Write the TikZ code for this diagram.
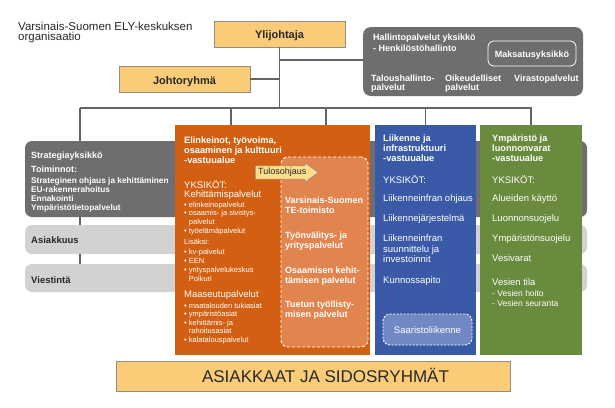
\documentclass[tikz,border=0pt]{standalone}
\usepackage{fontspec}
\setmainfont{Liberation Sans}
\usetikzlibrary{shapes.arrows}
\definecolor{lorange}{RGB}{250,204,120}
\definecolor{boxborder}{RGB}{150,140,128}
\definecolor{dgray}{RGB}{110,110,112}
\definecolor{lgray}{RGB}{210,210,210}
\definecolor{orng}{RGB}{211,96,18}
\definecolor{orngl}{RGB}{226,132,78}
\definecolor{blu}{RGB}{58,90,168}
\definecolor{blul}{RGB}{112,137,196}
\definecolor{grn}{RGB}{106,138,62}
\definecolor{linegray}{RGB}{100,100,100}
\definecolor{tulosfill}{RGB}{252,222,140}
\definecolor{darktext}{RGB}{40,40,40}
\begin{document}
\begin{tikzpicture}[x=1pt,y=-1pt,
  conn/.style={draw=linegray,line width=1.3pt},
  yellowbox/.style={draw=boxborder,line width=0.8pt,fill=lorange,minimum width=131pt,minimum height=26pt,inner sep=0pt},
  band/.style={rounded corners=7pt,inner sep=0pt,minimum width=562pt},
  colbox/.style={inner sep=0pt,minimum height=230pt},
  dashbox/.style={draw=white,line width=0.9pt,dash pattern=on 3pt off 2pt,rounded corners=7pt,inner sep=0pt},
  wt/.style={anchor=base west,inner sep=0pt,text=white},
  hb/.style={wt,font=\fontsize{9.2}{10}\selectfont\bfseries},
  bt/.style={wt,font=\fontsize{9}{10}\selectfont\bfseries},
  sbt/.style={wt,font=\fontsize{8.3}{9}\selectfont\bfseries},
  rt/.style={wt,font=\fontsize{9.5}{10}\selectfont},
  st/.style={wt,font=\fontsize{7.5}{8}\selectfont},
  dt/.style={anchor=base west,inner sep=0pt,text=darktext,font=\fontsize{9.5}{10}\selectfont\bfseries}
]
\useasboundingbox (0,0) rectangle (615,407);
\fill[white] (0,0) rectangle (615,407);

% title
\node[anchor=base west,inner sep=0pt,font=\fontsize{11.5}{11}\selectfont,text=darktext] (title1) at (18,30) {Varsinais-Suomen ELY-keskuksen};
\node[anchor=base west,inner sep=0pt,font=\fontsize{11.5}{11}\selectfont,text=darktext] (title2) at (18,40.5) {organisaatio};

% top boxes
\node[yellowbox] (ylij) at (279.5,34) {};
\node[anchor=base,inner sep=0pt,font=\fontsize{11}{11}\selectfont\bfseries,text=darktext] (ylijt) at (279.5,38) {Ylijohtaja};
\node[yellowbox] (johto) at (184.5,79) {};
\node[anchor=base,inner sep=0pt,font=\fontsize{11}{11}\selectfont\bfseries,text=darktext] (johtot) at (184.5,84) {Johtoryhmä};

% hallinto
\node[fill=dgray,rounded corners=8pt,minimum width=220pt,minimum height=69pt,inner sep=0pt] (hall) at (473,61.5) {};
\node[draw=white,line width=0.8pt,rounded corners=6pt,minimum width=88pt,minimum height=25pt,inner sep=0pt] (maks) at (532,53.5) {};
\node[anchor=base,inner sep=0pt,text=white,font=\fontsize{9}{10}\selectfont\bfseries] (makst) at (532,57) {Maksatusyksikkö};
\node[bt] (h1) at (373,40) {Hallintopalvelut yksikkö};
\node[bt] (h2) at (373,51.5) {- Henkilöstöhallinto};
\node[bt] (h3) at (371,81) {Taloushallinto-};
\node[bt] (h4) at (371,90) {palvelut};
\node[bt] (h5) at (445,81) {Oikeudelliset};
\node[bt] (h6) at (445,90) {palvelut};
\node[bt] (h7) at (514,81) {Virastopalvelut};

% bands
\node[band,fill=dgray,minimum height=76pt] (strat) at (306,179) {};
\node[band,fill=lgray,minimum height=29pt] (asiak) at (306,239.5) {};
\node[band,fill=lgray,minimum height=28pt] (viest) at (306,278) {};
\node[bt] (s1) at (31,158) {Strategiayksikkö};
\node[bt] (s2) at (31,172) {Toiminnot:};
\foreach \yy/\tx [count=\i] in {183/{Strateginen ohjaus ja kehittäminen},192/{EU-rakennerahoitus},201/{Ennakointi},210/{Ympäristötietopalvelut}}
  \node[sbt] (sl\i) at (31,\yy) {\tx};
\node[dt] (asiakt) at (31,243.5) {Asiakkuus};
\node[dt] (viestt) at (31,283) {Viestintä};

% columns
\node[colbox,fill=orng,minimum width=195pt] (orange) at (272.5,240) {};
\node[colbox,fill=blu,minimum width=101pt] (blue) at (425.5,240) {};
\node[colbox,fill=grn,minimum width=102pt] (green) at (531,240) {};
\node[dashbox,fill=orngl,minimum width=87pt,minimum height=190pt] (te) at (324.5,252) {};
\node[dashbox,fill=blul,dash pattern=on 2pt off 1.5pt,minimum width=89pt,minimum height=31pt] (saar) at (427.5,329.5) {};

% orange texts
\foreach \yy/\tx [count=\i] in {143/{Elinkeinot, työvoima,},153/{osaaminen ja kulttuuri},163/{-vastuualue}}
  \node[hb] (oh\i) at (184,\yy) {\tx};
\node[rt] (oy) at (184,188.3) {YKSIKÖT:};
\node[rt] (ok) at (184,197.5) {Kehittämispalvelut};
\foreach \yy/\tx [count=\i] in {207/{• elinkeinopalvelut},215.8/{• osaamis- ja sivistys-},224.6/{\phantom{• }palvelut},233.4/{• työelämäpalvelut},244.5/{Lisäksi:},254/{• kv-palvelut},263.3/{• EEN},272.6/{• yrityspalvelukeskus},281.9/{\phantom{• }Polkuri}}
  \node[st] (ob\i) at (184,\yy) {\tx};
\node[rt] (om) at (184,297.5) {Maaseutupalvelut};
\foreach \yy/\tx [count=\i] in {308/{• maatalouden tukiasiat},316.6/{• ympäristöasiat},325.2/{• kehittämis- ja},333.8/{\phantom{• }rahoitusasiat},342.4/{• kalatalouspalvelut}}
  \node[st] (oc\i) at (184,\yy) {\tx};
\foreach \yy/\tx [count=\i] in {203/{Varsinais-Suomen},213/{TE-toimisto},238.5/{Työnvälitys- ja},248.5/{yrityspalvelut},273/{Osaamisen kehit-},283/{tämisen palvelut},307.5/{Tuetun työllisty-},317.5/{misen palvelut}}
  \node[bt] (te\i) at (285,\yy) {\tx};

% Tulosohjaus
\node[single arrow,draw=boxborder,fill=tulosfill,line width=0.6pt,single arrow head extend=3pt,single arrow tip angle=72,minimum height=63pt,inner xsep=2pt,inner ysep=2.2pt,font=\fontsize{9}{9}\selectfont,text=darktext,anchor=west] (tulos) at (255,172.5) {Tulosohjaus};

% blue texts
\foreach \yy/\tx [count=\i] in {141/{Liikenne ja},151/{infrastruktuuri},161/{-vastuualue}}
  \node[hb] (bh\i) at (383,\yy) {\tx};
\foreach \yy/\tx [count=\i] in {183.5/{YKSIKÖT:},201.5/{Liikenneinfran ohjaus},221/{Liikennejärjestelmä},241.5/{Liikenneinfran},252/{suunnittelu ja},262.5/{investoinnit},283.5/{Kunnossapito}}
  \node[rt] (bl\i) at (383,\yy) {\tx};
\node[anchor=base,inner sep=0pt,text=white,font=\fontsize{9.5}{10}\selectfont] (saart) at (427.5,333) {Saaristoliikenne};

% green texts
\foreach \yy/\tx [count=\i] in {141/{Ympäristö ja},151/{luonnonvarat},161/{-vastuualue}}
  \node[hb] (gh\i) at (492,\yy) {\tx};
\foreach \yy/\tx [count=\i] in {183.5/{YKSIKÖT:},201.5/{Alueiden käyttö},221/{Luonnonsuojelu},241/{Ympäristönsuojelu},261/{Vesivarat},285/{Vesien tila}}
  \node[rt] (gl\i) at (492,\yy) {\tx};
\node[wt,font=\fontsize{8.5}{9}\selectfont] (gs1) at (492,296.5) {- Vesien hoito};
\node[wt,font=\fontsize{8.5}{9}\selectfont] (gs2) at (492,306.5) {- Vesien seuranta};

% bottom
\node[draw=boxborder,fill=lorange,line width=0.8pt,minimum width=394pt,minimum height=30pt,inner sep=0pt] (asi) at (313,376) {};
\node[anchor=base,inner sep=0pt,font=\fontsize{17}{17}\selectfont,text=darktext] (asit) at (325.5,382.5) {ASIAKKAAT JA SIDOSRYHMÄT};

% connectors
\coordinate (busL) at (80,108);
\coordinate (busR) at (532,108);
\coordinate (hj) at (279.5,60);
\coordinate (d1) at (231,108);
\coordinate (d2) at (326,108);
\draw[conn] (busL) -- (busR);
\draw[conn] (ylij.south) -- (ylij.south |- busL);
\draw[conn] (hj) -- (hj -| hall.west);
\draw[conn] (johto.east) -- (johto.east -| ylij.south);
\draw[conn] (busL) -- (busL |- strat.north);
\draw[conn] (busL |- strat.south) -- (busL |- asiak.north);
\draw[conn] (busL |- asiak.south) -- (busL |- viest.north);
\draw[conn] (d1) -- (d1 |- orange.north);
\draw[conn] (d2) -- (d2 |- orange.north);
\draw[conn] (blue.north |- busL) -- (blue.north);
\draw[conn] (green.north |- busL) -- (green.north);
\end{tikzpicture}
\end{document}
